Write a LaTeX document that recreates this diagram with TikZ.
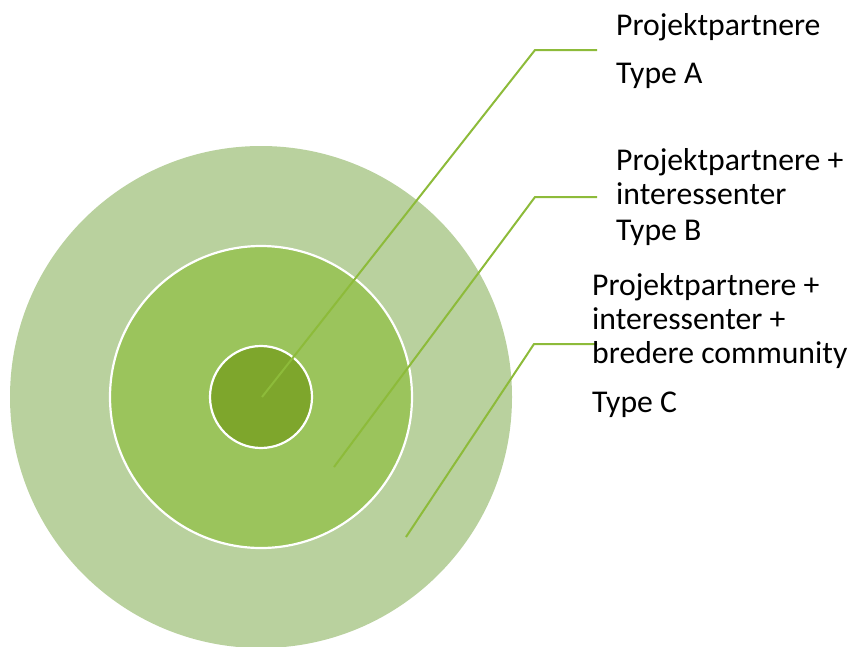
\documentclass[tikz,border=0pt]{standalone}
\usepackage{fontspec}
\setmainfont{Carlito}
\usetikzlibrary{positioning}
\definecolor{ringC}{RGB}{185,209,158}
\definecolor{ringB}{RGB}{155,196,92}
\definecolor{ringA}{RGB}{126,166,44}
\definecolor{leader}{RGB}{141,187,58}
\tikzset{
    ring/.style = {circle, draw=white, line width=2.2pt, inner sep=0pt},
    leadline/.style = {draw=leader, line width=2pt},
    lbl/.style = {anchor=base west, inner sep=0pt, font=\fontsize{31.7}{34}\selectfont}
}
\begin{document}
\begin{tikzpicture}[x=1pt,y=-1pt]
\useasboundingbox (0,0) rectangle (853,646);
% rings
\node[ring, fill=ringC, draw=none, minimum size=502pt] at (261,397) (outer) {};
\node[ring, fill=ringB, minimum size=302pt] at (261,397) (middle) {};
\node[ring, fill=ringA, minimum size=102pt] at (261,397) (inner) {};
%
\coordinate (pA) at (262,397);
\coordinate (kA) at (535,50);
\coordinate (eA) at (597,50);
\coordinate (pB) at (334,467);
\coordinate (kB) at (535,197);
\coordinate (eB) at (597,197);
\coordinate (pC) at (406,537);
\coordinate (kC) at (534,344);
\coordinate (eC) at (597,344);
\draw[leadline] (pA) -- (kA) -- (eA);
\draw[leadline] (pB) -- (kB) -- (eB);
\draw[leadline] (pC) -- (kC) -- (eC);
% labels
\node[lbl] at (616,35) (a1) {Projektpartnere};
\node[lbl] at (616,83) (a2) {Type A};
\node[lbl] at (616,170) (b1) {Projektpartnere +};
\node[lbl] at (616,204) (b2) {interessenter};
\node[lbl] at (616,240) (b3) {Type B};
\node[lbl] at (592,295) (c1) {Projektpartnere +};
\node[lbl] at (592,329) (c2) {interessenter +};
\node[lbl] at (592,363) (c3) {bredere community};
\node[lbl] at (592,412) (c4) {Type C};
\end{tikzpicture}
\end{document}
